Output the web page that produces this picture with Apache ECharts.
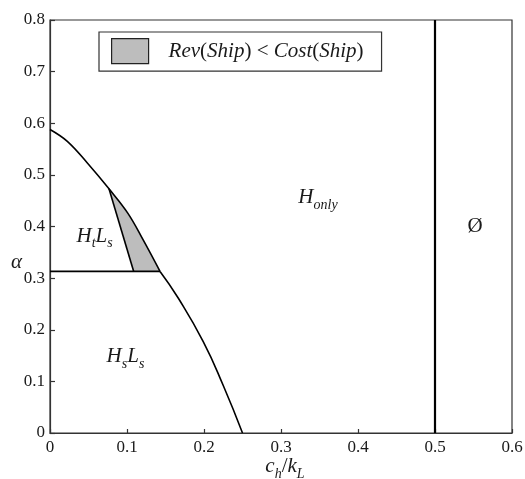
<!DOCTYPE html>
<html>
<head>
<meta charset="utf-8">
<script src="https://cdn.jsdelivr.net/npm/echarts@6/dist/echarts.min.js"></script>
<style>
  html, body { margin: 0; padding: 0; background: #fff; }
  #chart { width: 525px; height: 479px; }
</style>
</head>
<body>
<div id="chart"></div>
<script>
// Upper boundary: from the alpha axis down to the threshold line
const upperX = [0, 0.0225, 0.0485, 0.0766, 0.101, 0.121, 0.1429];
const upperA = [0.588, 0.565, 0.523, 0.473, 0.426, 0.374, 0.313];

// Lower boundary: from the threshold line down to the c_h/k_L axis
const lowerX = [0.1429, 0.1667, 0.199, 0.225, 0.25];
const lowerA = [0.313, 0.261, 0.177, 0.092, 0];

// Horizontal threshold between H_t L_s and H_s L_s
const thresholdX = [0, 0.1429];
const thresholdA = [0.313, 0.313];

// Inner edge of the shaded loss region
const innerX = [0.0766, 0.1087];
const innerA = [0.473, 0.313];

// Shaded region: Rev(Ship) < Cost(Ship)
const lossX = [0.0766, 0.101, 0.121, 0.1429, 0.1087];
const lossA = [0.473, 0.426, 0.374, 0.313, 0.313];

// Upper limit of c_h/k_L
const limitX = [0.5, 0.5];
const limitA = [0, 0.8];

// Region names and anchor coordinates
const regionText = ['{i|H}{s|t}{i|L}{s|s}', '{i|H}{s|s}{i|L}{s|s}', '{i|H}{s|only}', '{r|Ø}'];
const regionX = [0.058, 0.098, 0.348, 0.552];
const regionA = [0.381, 0.148, 0.456, 0.40];

const SERIF = '"Liberation Serif", "DejaVu Serif", serif';
const INK = '#1a1a1a';

const mathRich = {
  i: { fontFamily: SERIF, fontStyle: 'italic', fontSize: 21, color: INK, verticalAlign: 'bottom' },
  s: { fontFamily: SERIF, fontStyle: 'italic', fontSize: 14, color: INK, verticalAlign: 'bottom', padding: [0, 0, -4, 0] },
  r: { fontFamily: SERIF, fontSize: 21, color: INK, verticalAlign: 'bottom' }
};

const pair = (xs, ys) => xs.map((x, k) => [x, ys[k]]);
const blackLine = (name, xs, ys, w, smooth) => ({
  name, type: 'line', data: pair(xs, ys), showSymbol: false, symbol: 'none',
  smooth: smooth || false,
  lineStyle: { color: '#000', width: w }, silent: true, z: 3, animation: false
});

const chart = echarts.init(document.getElementById('chart'), null, { renderer: 'canvas' });

const LEGEND_NAME = 'Rev(Ship) < Cost(Ship)';

chart.setOption({
  animation: false,
  backgroundColor: '#fff',
  grid: {
    left: 50, right: 13, top: 20, bottom: 46,
    outerBoundsMode: 'none', containLabel: false,
    show: true, borderColor: '#333', borderWidth: 1.2, backgroundColor: 'transparent'
  },
  legend: {
    left: 99, top: 32,
    orient: 'horizontal',
    padding: [6, 18, 7, 12],
    borderColor: '#333', borderWidth: 1.2, borderRadius: 0,
    backgroundColor: '#fff',
    itemWidth: 37, itemHeight: 25,
    selectedMode: false,
    data: [{ name: LEGEND_NAME, icon: 'rect',
      itemStyle: { color: '#bdbdbd', borderColor: '#222', borderWidth: 1.2 } }],
    formatter: () => '{i|Rev}{r|(}{i|Ship}{r|) < }{i|Cost}{r|(}{i|Ship}{r|)}',
    textStyle: { padding: [0, 0, 0, 15], rich: mathRich }
  },
  xAxis: {
    type: 'value', min: 0, max: 0.6, interval: 0.1,
    name: '{i|c}{s|h}{r|/}{i|k}{s|L}',
    nameLocation: 'middle', nameGap: 23, nameMoveOverlap: false,
    nameTextStyle: { rich: mathRich, padding: [0, 0, 0, 8] },
    axisLine: { show: true, onZero: false, lineStyle: { color: '#333', width: 1.2 } },
    axisTick: { show: true, inside: true, length: 4, lineStyle: { color: '#333', width: 1.2 } },
    axisLabel: { fontFamily: SERIF, fontSize: 17, color: INK, margin: 6 },
    splitLine: { show: false }
  },
  yAxis: {
    type: 'value', min: 0, max: 0.8, interval: 0.1,
    name: '{i|α}',
    nameLocation: 'middle', nameGap: 28, nameRotate: 0, nameMoveOverlap: false,
    nameTextStyle: { rich: mathRich, padding: [72, 0, 0, 0] },
    axisLine: { show: true, onZero: false, lineStyle: { color: '#333', width: 1.2 } },
    axisTick: { show: true, inside: true, length: 5, lineStyle: { color: '#333', width: 1.2 } },
    axisLabel: { fontFamily: SERIF, fontSize: 17, color: INK, margin: 5 },
    splitLine: { show: false }
  },
  series: [
    {
      name: LEGEND_NAME,
      type: 'custom',
      data: pair(lossX, lossA),
      itemStyle: { color: '#bdbdbd' },
      renderItem: (params, api) => {
        if (params.dataIndex !== 0) return null;
        const pts = lossX.map((x, k) => api.coord([x, lossA[k]]));
        return {
          type: 'polygon',
          shape: { points: pts },
          style: { fill: '#bdbdbd', stroke: 'none' }
        };
      },
      z: 2, silent: true
    },
    blackLine('upper', upperX, upperA, 1.6, 0.4),
    blackLine('lower', lowerX, lowerA, 1.6, 0.5),
    blackLine('threshold', thresholdX, thresholdA, 1.6),
    blackLine('inner', innerX, innerA, 1.6),
    blackLine('limit', limitX, limitA, 2.2),
    {
      name: 'regions',
      type: 'scatter',
      symbolSize: 0,
      itemStyle: { color: INK, opacity: 1 },
      data: regionX.map((x, k) => ({ value: [x, regionA[k]], text: regionText[k] })),
      label: {
        show: true, position: 'inside', color: INK, opacity: 1,
        textBorderWidth: 0,
        formatter: p => p.data.text,
        rich: mathRich
      },
      silent: true, z: 4
    }
  ]
});
</script>
</body>
</html>
